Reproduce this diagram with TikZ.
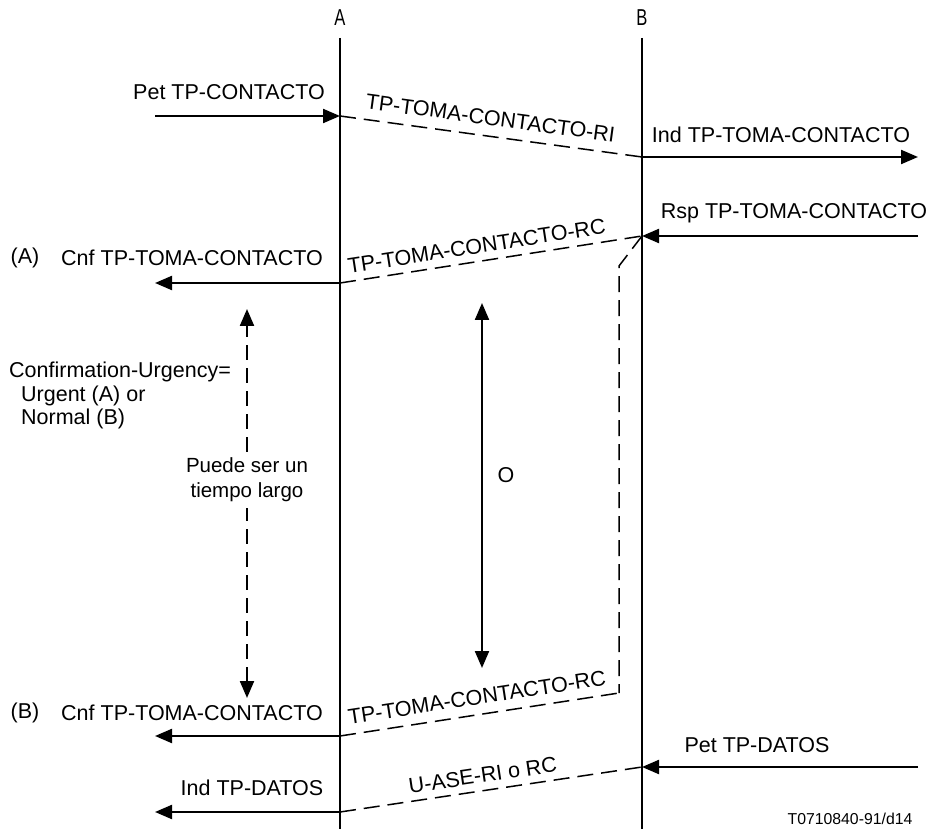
\documentclass[tikz,border=0pt]{standalone}
\usepackage{fontspec}
\setmainfont{Liberation Sans}
\usetikzlibrary{arrows.meta}
\begin{document}
\begin{tikzpicture}[x=1pt,y=-1pt,
  every node/.style={font=\fontsize{21.5}{25}\selectfont, inner sep=0pt},
  lifeline/.style={line width=2.2pt},
  msg/.style={line width=2.2pt, -{Triangle[length=17pt,width=14pt]}},
  prim/.style={line width=1.5pt, dash pattern=on 16pt off 8pt},
  span/.style={line width=2.2pt, {Triangle[length=17pt,width=14pt]}-{Triangle[length=17pt,width=14pt]}},
  spandash/.style={line width=2.2pt, dash pattern=on 15pt off 8pt, {Triangle[length=17pt,width=14pt]}-{Triangle[length=17pt,width=14pt]}},
  hdr/.style={font=\fontsize{23}{26}\selectfont}
]
\useasboundingbox (0,0) rectangle (930,829);

% entity headers and lifelines
\node[hdr] (A) at (340,18) {\scalebox{0.72}[1]{A}};
\node[hdr] (B) at (642,18) {\scalebox{0.72}[1]{B}};
\coordinate (Atop) at (340,38);
\coordinate (Abot) at (340,829);
\coordinate (Btop) at (642,38);
\coordinate (Bbot) at (642,829);
\draw[lifeline] (Atop) -- (Abot);
\draw[lifeline] (Btop) -- (Bbot);

% points on the lifelines
\coordinate (a1) at (340,116);
\coordinate (b1) at (642,157);
\coordinate (b2) at (642,236);
\coordinate (a2) at (340,283);
\coordinate (k1) at (619,266);
\coordinate (k2) at (619,693);
\coordinate (a3) at (340,736);
\coordinate (b3) at (642,767);
\coordinate (a4) at (340,812);

% outer ends of the service primitives
\coordinate (l1) at (155,116);
\coordinate (r1) at (918,157);
\coordinate (r2) at (918,236);
\coordinate (l2) at (155,283);
\coordinate (l3) at (155,736);
\coordinate (r3) at (918,767);
\coordinate (l4) at (155,812);

% connect request
\draw[msg] (l1) -- (a1);
\node (petc) at (229,92) {Pet TP-CONTACTO};
\draw[prim] (a1) -- node[sloped, above=10pt, pos=0.49] (ri) {TP-TOMA-CONTACTO-RI} (b1);
\draw[msg] (b1) -- (r1);
\node (indc) at (781,135) {Ind TP-TOMA-CONTACTO};

% connect response
\draw[msg] (r2) -- (b2);
\node (rspc) at (794,213) {Rsp TP-TOMA-CONTACTO};
\draw[prim] (a2) -- node[sloped, above=7pt, pos=0.46] (rc1) {TP-TOMA-CONTACTO-RC} (b2);
\draw[msg] (a2) -- (l2);
\node (tagA) at (25,258) {(A)};
\node (cnfA) at (192,258) {Cnf TP-TOMA-CONTACTO};

% delayed confirmation path
\draw[prim] (b2) -- (k1) -- (k2);
\draw[prim] (a3) -- node[sloped, above=9pt, pos=0.5] (rc2) {TP-TOMA-CONTACTO-RC} (k2);
\draw[msg] (a3) -- (l3);
\node (tagB) at (25,713) {(B)};
\node (cnfB) at (192,713) {Cnf TP-TOMA-CONTACTO};

% data transfer
\draw[msg] (r3) -- (b3);
\node (petd) at (757,745) {Pet TP-DATOS};
\draw[prim] (a4) -- node[sloped, above=7pt, pos=0.48] (ase) {U-ASE-RI o RC} (b3);
\draw[msg] (a4) -- (l4);
\node (indd) at (252,788) {Ind TP-DATOS};

% time spans
\coordinate (s1) at (247,309);
\coordinate (s2) at (247,698);
\draw[spandash] (s2) -- (s1);
\node[fill=white, align=center, inner ysep=6pt, font=\fontsize{20.5}{25}\selectfont] (puede) at (247,480) {Puede ser un\\tiempo largo};
\coordinate (o1) at (482,303);
\coordinate (o2) at (482,668);
\draw[span] (o1) -- (o2);
\node (oo) at (506,475) {O};

% urgency note
\node[anchor=north west, align=left, font=\fontsize{21.5}{23.5}\selectfont] (urg) at (9,362) {Confirmation-Urgency=\\\hspace*{12pt}Urgent (A) or\\\hspace*{12pt}Normal (B)};

% figure reference
\node[font=\fontsize{15.8}{18}\selectfont] (ref) at (850,819) {T0710840-91/d14};
\end{tikzpicture}
\end{document}
